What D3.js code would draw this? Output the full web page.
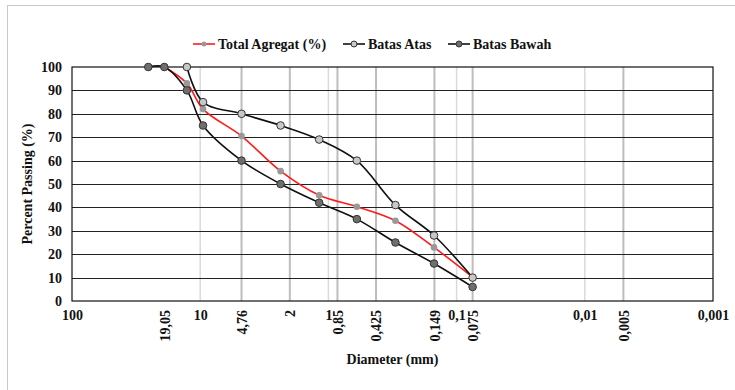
<!DOCTYPE html>
<html>
<head>
<meta charset="utf-8">
<script src="https://cdn.jsdelivr.net/npm/d3@7"></script>
<style>
  body { margin: 0; background: #fff; }
  svg { display: block; font-family: "Liberation Serif", "Times New Roman", serif; font-weight: bold; }
</style>
</head>
<body>
<script>
// sieve sizes (mm) and passing percentages
const sizes = [25.4, 19.05, 12.7, 9.5, 4.76, 2.36, 1.18, 0.6, 0.3, 0.15, 0.075];
const totalAgregat = [null, 100, 93, 82, 70.5, 55.5, 45.2, 40.3, 34.3, 22.9, 10.2];
const batasAtas = [null, null, 100, 85, 80, 75, 69, 60, 41, 28, 10];
const batasBawah = [100, 100, 90, 75, 60, 50, 42, 35, 25, 16, 6];

const majorTicks = [100, 10, 1, 0.1, 0.01, 0.001];
const majorLabels = ["100", "10", "1", "0,1", "0,01", "0,001"];
const sieveTicks = [19.05, 4.76, 2, 0.85, 0.425, 0.149, 0.075, 0.005];
const sieveLabels = ["19,05", "4,76", "2", "0,85", "0,425", "0,149", "0,075", "0,005"];
const sieveGrid = [4.76, 2, 0.85, 0.425, 0.149, 0.075, 0.005];
const yTicks = [0, 10, 20, 30, 40, 50, 60, 70, 80, 90, 100];

const width = 735, height = 390;
const margin = {top: 67, right: 22, bottom: 89, left: 72};
const fontSize = 14;

const svg = d3.select("body").append("svg")
  .attr("width", width)
  .attr("height", height);

// outer frame
svg.append("rect")
  .attr("x", 7.5).attr("y", 5.5)
  .attr("width", width).attr("height", height)
  .attr("fill", "none")
  .attr("stroke", "#c8c8c8");

const x = d3.scaleLog()
  .domain([100, 0.001])
  .range([margin.left, width - margin.right]);
const y = d3.scaleLinear()
  .domain([0, 100])
  .range([height - margin.bottom, margin.top]);

// vertical gridlines
svg.append("g")
  .selectAll("line")
  .data(majorTicks.slice(1, -1))
  .join("line")
  .attr("x1", d => x(d)).attr("x2", d => x(d))
  .attr("y1", y(0)).attr("y2", y(100))
  .attr("stroke", "#dadada")
  .attr("stroke-width", 1.5);

svg.append("g")
  .selectAll("line")
  .data(sieveGrid)
  .join("line")
  .attr("x1", d => x(d)).attr("x2", d => x(d))
  .attr("y1", y(0)).attr("y2", y(100))
  .attr("stroke", "#bdbdbd")
  .attr("stroke-width", 2);

// horizontal gridlines
svg.append("g")
  .selectAll("line")
  .data(yTicks.slice(1, -1))
  .join("line")
  .attr("x1", x(100)).attr("x2", x(0.001))
  .attr("y1", d => Math.round(y(d)) + 0.5).attr("y2", d => Math.round(y(d)) + 0.5)
  .attr("stroke", "#222")
  .attr("stroke-width", 1);

// plot border
svg.append("rect")
  .attr("x", x(100)).attr("y", y(100))
  .attr("width", x(0.001) - x(100))
  .attr("height", y(0) - y(100))
  .attr("fill", "none")
  .attr("stroke", "#111")
  .attr("stroke-width", 1.2);

// y axis labels
svg.append("g")
  .attr("transform", `translate(${x(100)},0)`)
  .call(d3.axisLeft(y).tickValues(yTicks).tickSize(0).tickPadding(10))
  .call(g => g.select(".domain").remove())
  .call(g => g.selectAll("text")
    .attr("font-family", "Liberation Serif")
    .attr("font-weight", "bold")
    .attr("font-size", fontSize)
    .attr("fill", "#111"));

// x axis: decade labels (horizontal)
svg.append("g")
  .attr("transform", `translate(0,${y(0)})`)
  .call(d3.axisBottom(x).tickValues(majorTicks)
    .tickFormat((d, i) => majorLabels[i]).tickSize(0).tickPadding(9))
  .call(g => g.select(".domain").remove())
  .call(g => g.selectAll("text")
    .attr("font-family", "Liberation Serif")
    .attr("font-weight", "bold")
    .attr("font-size", fontSize)
    .attr("fill", "#111"));

// x axis: sieve labels (rotated)
svg.append("g")
  .attr("transform", `translate(0,${y(0)})`)
  .call(d3.axisBottom(x).tickValues(sieveTicks)
    .tickFormat((d, i) => sieveLabels[i]).tickSize(0))
  .call(g => g.select(".domain").remove())
  .call(g => g.selectAll("text")
    .attr("font-family", "Liberation Serif")
    .attr("font-weight", "bold")
    .attr("font-size", fontSize)
    .attr("fill", "#111")
    .attr("transform", "rotate(-90)")
    .attr("text-anchor", "end")
    .attr("x", -9)
    .attr("y", 0)
    .attr("dy", "0.35em"));

// axis titles
svg.append("text")
  .attr("x", (x(100) + x(0.001)) / 2)
  .attr("y", 364)
  .attr("text-anchor", "middle")
  .attr("font-size", fontSize)
  .attr("fill", "#111")
  .text("Diameter (mm)");

svg.append("text")
  .attr("transform", `translate(32,${(y(0) + y(100)) / 2}) rotate(-90)`)
  .attr("text-anchor", "middle")
  .attr("font-size", fontSize)
  .attr("fill", "#111")
  .text("Percent Passing (%)");

// series
const series = [
  {name: "Total Agregat (%)", values: totalAgregat, stroke: "#ff1a1a", fill: "#999", markStroke: "none", r: 3.3},
  {name: "Batas Atas", values: batasAtas, stroke: "#111", fill: "#c8c8c8", markStroke: "#333", r: 3.8},
  {name: "Batas Bawah", values: batasBawah, stroke: "#111", fill: "#6e6e6e", markStroke: "#333", r: 3.8}
];

const line = d3.line()
  .x(d => x(d[0]))
  .y(d => y(d[1]))
  .curve(d3.curveCatmullRom.alpha(0.5));

series.forEach(s => {
  const pts = sizes.map((d, i) => [d, s.values[i]]).filter(d => d[1] != null);
  svg.append("path")
    .attr("d", line(pts))
    .attr("fill", "none")
    .attr("stroke", s.stroke)
    .attr("stroke-width", 1.6);
  s.pts = pts;
});

series.forEach(s => {
  svg.append("g")
    .selectAll("circle")
    .data(s.pts)
    .join("circle")
    .attr("cx", d => x(d[0]))
    .attr("cy", d => y(d[1]))
    .attr("r", s.r)
    .attr("fill", s.fill)
    .attr("stroke", s.markStroke)
    .attr("stroke-width", 1);
});

// legend
const legendX = [193, 343, 448];
const legend = svg.append("g").attr("transform", "translate(0,44)");
series.forEach((s, i) => {
  const g = legend.append("g").attr("transform", `translate(${legendX[i]},0)`);
  g.append("line")
    .attr("x1", 0).attr("x2", 22)
    .attr("stroke", s.stroke)
    .attr("stroke-width", 1.6);
  g.append("circle")
    .attr("cx", 11).attr("r", s.r - 0.8)
    .attr("fill", s.fill)
    .attr("stroke", s.markStroke);
  g.append("text")
    .attr("x", 25)
    .attr("dy", "0.35em")
    .attr("font-size", fontSize)
    .attr("fill", "#111")
    .text(s.name);
});
</script>
</body>
</html>
